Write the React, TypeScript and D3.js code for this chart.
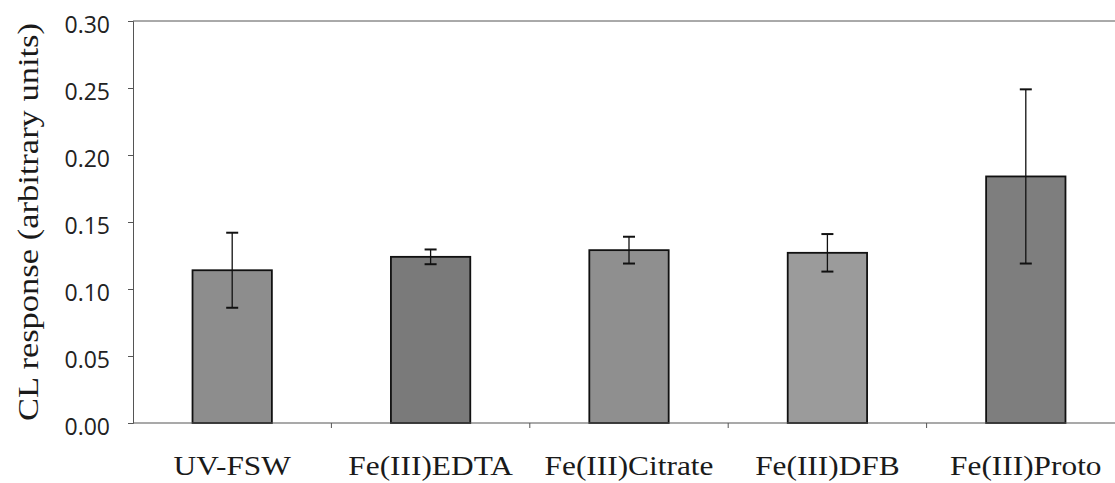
import { useEffect, useRef } from "react";
import * as d3 from "d3";

const categories = ["UV-FSW", "Fe(III)EDTA", "Fe(III)Citrate", "Fe(III)DFB", "Fe(III)Proto"];
const means = [0.114, 0.124, 0.129, 0.127, 0.184];
const errors = [0.028, 0.0055, 0.01, 0.014, 0.065];
const barColors = ["#8d8d8d", "#7a7a7a", "#8f8f8f", "#9b9b9b", "#7e7e7e"];
const yTicks = [0, 0.05, 0.1, 0.15, 0.2, 0.25, 0.3];

export default function App() {
  const ref = useRef<SVGSVGElement>(null);

  useEffect(() => {
    if (!ref.current) return;
    const width = 1115;
    const height = 483;
    const left = 133;
    const right = 1125;
    const top = 21;
    const bottom = 423;

    const svg = d3.select(ref.current);
    svg.selectAll("*").remove();

    const x = d3.scaleBand().domain(categories).range([left, right]).paddingInner(0.6).paddingOuter(0.3);
    const y = d3.scaleLinear().domain([0, 0.3]).range([bottom, top]);
    const step = x.step();

    const data = categories.map((c, i) => ({ c, v: means[i], e: errors[i], col: barColors[i] }));

    // top border of the plot area
    svg.append("line")
      .attr("x1", left).attr("x2", width)
      .attr("y1", top).attr("y2", top)
      .attr("stroke", "#555").attr("stroke-width", 1);

    svg.selectAll("rect.bar")
      .data(data)
      .enter()
      .append("rect")
      .attr("class", "bar")
      .attr("x", (d) => x(d.c) || 0)
      .attr("y", (d) => y(d.v))
      .attr("width", x.bandwidth())
      .attr("height", (d) => y(0) - y(d.v))
      .attr("fill", (d) => d.col)
      .attr("stroke", "#111")
      .attr("stroke-width", 1.8);

    // error bars
    const cx = (d: any) => (x(d.c) || 0) + x.bandwidth() / 2;
    const eb = svg.selectAll("g.err").data(data).enter().append("g").attr("class", "err");
    eb.append("line")
      .attr("x1", cx).attr("x2", cx)
      .attr("y1", (d) => y(d.v + d.e)).attr("y2", (d) => y(d.v - d.e))
      .attr("stroke", "#111").attr("stroke-width", 1.3);
    [1, -1].forEach((s) => {
      eb.append("line")
        .attr("x1", (d) => cx(d) - 6).attr("x2", (d) => cx(d) + 6)
        .attr("y1", (d) => y(d.v + s * d.e)).attr("y2", (d) => y(d.v + s * d.e))
        .attr("stroke", "#111").attr("stroke-width", 2);
    });

    // y axis
    const yAxis = svg.append("g")
      .attr("transform", `translate(${left},0)`)
      .call(d3.axisLeft(y).tickValues(yTicks).tickFormat(d3.format(".2f")).tickSize(5).tickPadding(18));
    yAxis.select(".domain").attr("stroke", "#555");
    yAxis.selectAll(".tick line").attr("stroke", "#555");
    yAxis.selectAll("text")
      .attr("font-family", "'Open Sans', sans-serif")
      .attr("font-size", 23)
      .attr("dy", "0.5em")
      .attr("fill", "#222");

    // x axis
    const xAxis = svg.append("g").attr("transform", `translate(0,${bottom})`);
    xAxis.append("line")
      .attr("x1", left).attr("x2", width)
      .attr("stroke", "#555").attr("stroke-width", 1.2);
    xAxis.selectAll("line.tk")
      .data(categories.slice(1))
      .enter()
      .append("line")
      .attr("class", "tk")
      .attr("x1", (c) => (x(c) || 0) - step * 0.3)
      .attr("x2", (c) => (x(c) || 0) - step * 0.3)
      .attr("y1", 0).attr("y2", 5)
      .attr("stroke", "#555");
    xAxis.selectAll("text")
      .data(categories)
      .enter()
      .append("text")
      .attr("transform", (c) => `translate(${(x(c) || 0) + x.bandwidth() / 2},52) scale(1.12,1)`)
      .attr("text-anchor", "middle")
      .attr("font-family", "'Liberation Serif', serif")
      .attr("font-size", 28)
      .attr("fill", "#1a1a1a")
      .text((c) => c);

    // y axis title
    svg.append("text")
      .attr("transform", `translate(38,${(top + bottom) / 2}) rotate(-90) scale(1.15,1)`)
      .attr("text-anchor", "middle")
      .attr("font-family", "'Liberation Serif', serif")
      .attr("font-size", 30)
      .attr("fill", "#1a1a1a")
      .text("CL response (arbitrary units)");

    svg.attr("width", width).attr("height", height);
  }, []);

  return (
    <svg
      ref={ref}
      width={1115}
      height={483}
      style={{ position: "absolute", left: 0, top: 0, background: "#fff", display: "block" }}
    />
  );
}
